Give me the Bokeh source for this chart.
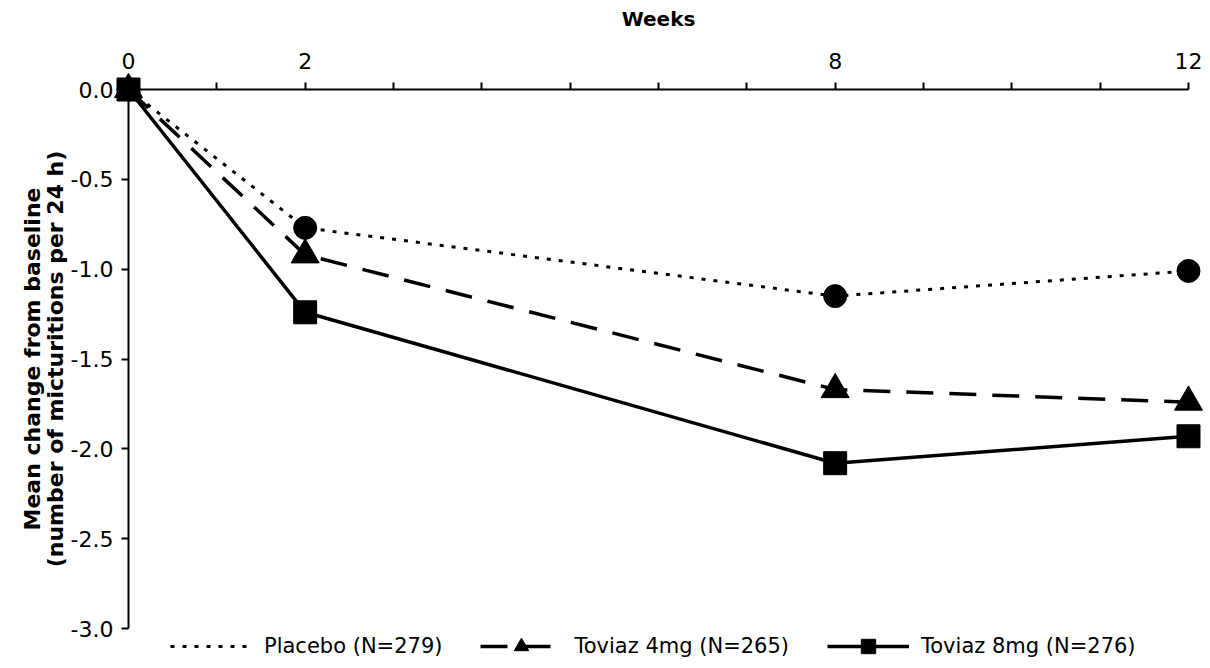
from bokeh.plotting import figure
from bokeh.models import (LinearAxis, FixedTicker, Legend, LegendItem, Range1d,
                          PrintfTickFormatter)
from bokeh.embed import file_html
from bokeh.resources import INLINE

weeks = [0, 2, 8, 12]
placebo = [0.0, -0.77, -1.15, -1.01]
toviaz4 = [0.0, -0.92, -1.67, -1.74]
toviaz8 = [0.0, -1.24, -2.08, -1.93]
series_labels = ["Placebo (N=279)", "Toviaz 4mg (N=265)", "Toviaz 8mg (N=276)"]
x_ticks = list(range(0, 13))
x_labeled = [0, 2, 8, 12]
y_ticks = [0.0, -0.5, -1.0, -1.5, -2.0, -2.5, -3.0]
x_title = "Weeks"
y_title = "Mean change from baseline\n(number of micturitions per 24 h)"

FONT = "DejaVu Sans"

# the frame covers the whole canvas; the axes sit at x=0 / y=0 inside it
p = figure(width=1210, height=668,
           x_range=Range1d(-1.4491, 12.2491), y_range=Range1d(-3.2226, 0.4954),
           output_backend="svg", toolbar_location=None,
           x_axis_location=None, y_axis_location=None,
           min_border_left=0, min_border_right=0,
           min_border_top=0, min_border_bottom=0)
p.grid.visible = False
p.outline_line_color = None
p.background_fill_color = "white"
p.border_fill_color = "white"

xaxis = LinearAxis(
    ticker=FixedTicker(ticks=x_ticks),
    major_label_overrides={t: (str(t) if t in x_labeled else "") for t in x_ticks},
    fixed_location=0, bounds=(0, 12),
    axis_label=x_title,
    axis_label_text_font=FONT, axis_label_text_font_size="20px",
    axis_label_text_font_style="bold", axis_label_standoff=19,
    axis_label_text_color="black",
    major_label_text_font=FONT, major_label_text_font_size="22px",
    major_label_text_color="black",
    major_label_standoff=14,
    axis_line_width=2, major_tick_line_width=2,
    major_tick_in=0, major_tick_out=7,
    minor_tick_line_color=None,
)
p.add_layout(xaxis, "above")

yaxis = LinearAxis(
    ticker=FixedTicker(ticks=y_ticks),
    formatter=PrintfTickFormatter(format="%.1f"),
    fixed_location=0, bounds=(-3.0, 0.0),
    axis_label=y_title,
    axis_label_text_font=FONT, axis_label_text_font_size="22px",
    axis_label_text_font_style="bold", axis_label_standoff=0,
    axis_label_text_color="black", axis_label_text_line_height=0.9,
    major_label_text_font=FONT, major_label_text_font_size="22px",
    major_label_text_color="black",
    major_label_standoff=8,
    axis_line_width=2, major_tick_line_width=2,
    major_tick_in=0, major_tick_out=7,
    minor_tick_line_color=None,
)
p.add_layout(yaxis, "left")

l1 = p.line(weeks, placebo, line_color="black", line_width=3, line_dash="4 8")
m1 = p.scatter(weeks, placebo, marker="circle", size=23, color="black")

l2 = p.line(weeks, toviaz4, line_color="black", line_width=3.5, line_dash="27 16")
m2 = p.scatter(weeks, toviaz4, marker="triangle", size=28, color="black")

l3 = p.line(weeks, toviaz8, line_color="black", line_width=3.5)
m3 = p.scatter(weeks, toviaz8, marker="square", size=23, color="black")

legend = Legend(items=[
    LegendItem(label=series_labels[0], renderers=[l1]),
    LegendItem(label=series_labels[1], renderers=[l2, m2]),
    LegendItem(label=series_labels[2], renderers=[l3, m3]),
], orientation="horizontal", location=(170, 4),
   border_line_color=None, background_fill_alpha=0,
   label_text_font=FONT, label_text_font_size="21px", label_text_color="black",
   glyph_width=82, glyph_height=36, label_standoff=12, spacing=38,
   padding=0, margin=0)
p.add_layout(legend, "center")

open("out.html", "w").write(file_html(p, INLINE))
